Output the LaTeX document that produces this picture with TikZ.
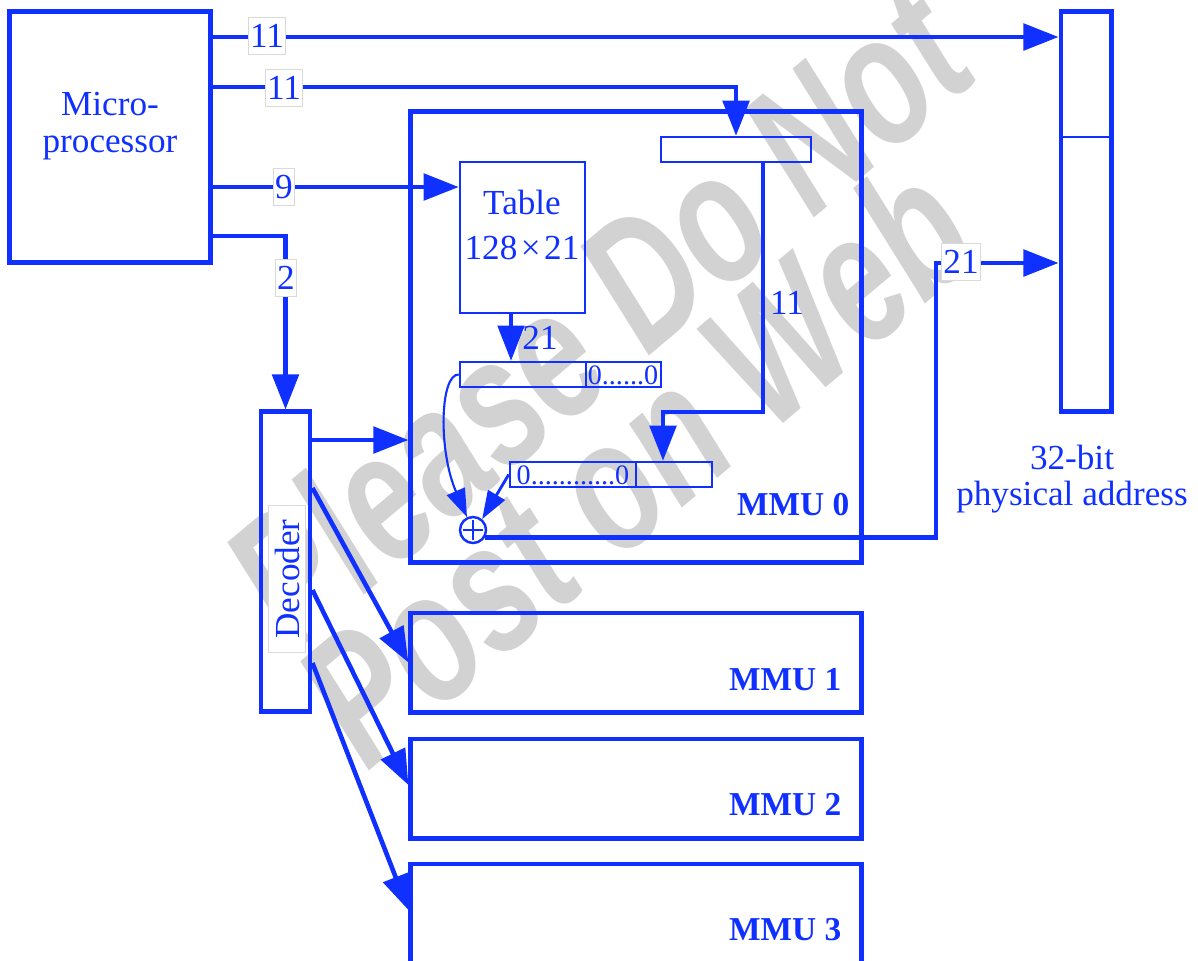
\documentclass[tikz,border=0pt]{standalone}
\usepackage{fontspec}
\setmainfont{Liberation Serif}
\newfontfamily\wmfont{Liberation Sans}
\usetikzlibrary{arrows.meta}
\definecolor{mmublue}{RGB}{16,48,255}

\begin{document}
\begin{tikzpicture}[x=0.01cm, y=-0.01cm,
    every node/.style={text=mmublue, font=\fontsize{10}{10.5}\selectfont},
    unitbox/.style={draw=mmublue, line width=1.4pt, inner sep=0pt},
    regbox/.style={draw=mmublue, line width=0.7pt, inner sep=0pt, minimum height=0.25cm},
    bus/.style={draw=mmublue, line width=1.3pt},
    bigtip/.style={-{Triangle[length=10pt,width=7.5pt]}},
    smalltip/.style={-{Triangle[length=8pt,width=5.5pt]}},
    numbox/.style={fill=white, draw=gray!30, line width=0.4pt, inner xsep=0.5pt, inner ysep=0pt, minimum height=10.5pt},
    zeros/.style={font=\fontsize{8}{8}\selectfont, inner sep=0pt},
    mmulabel/.style={font=\bfseries\fontsize{9.5}{9.5}\selectfont, anchor=base east, inner sep=0pt},
    watermark/.style={rotate=40, xscale=0.95, yscale=1.32, inner sep=0pt, text=gray!35, font=\wmfont\bfseries\itshape\fontsize{40}{40}\selectfont}]
    \useasboundingbox (0,0) rectangle (1198,960);

    \node[watermark] (wm1) at (596,314) {Please Do Not};
    \node[watermark] (wm2) at (634,462) {Post on Web};

    \node[unitbox, minimum width=2cm, minimum height=2.5cm] (micro) at (110,137) {};
    \node[align=center] (microtxt) at (110,126) {Micro-\\processor};
    \node[unitbox, minimum width=0.5cm, minimum height=3.99cm] (phys) at (1086,211.5) {};
    \draw[mmublue, line width=.7pt] (phys.west |- 0,137) -- (phys.east |- 0,137);
    \node[align=center, font=\fontsize{10}{10}\selectfont] (physlbl) at (1072,479) {32-bit\\physical address};

    \node[unitbox, minimum width=4.5cm, minimum height=4.5cm] (mmu0) at (636,337) {};
    \node[unitbox, minimum width=4.5cm, minimum height=0.99cm] (mmu1) at (636,662.5) {};
    \node[unitbox, minimum width=4.5cm, minimum height=0.99cm] (mmu2) at (636,788.5) {};
    \node[unitbox, minimum width=4.5cm, minimum height=1.12cm] (mmu3) at (636,920) {};
    \node[mmulabel] (l0) at (850,515) {MMU 0};
    \node[mmulabel] (l1) at (842,690) {MMU 1};
    \node[mmulabel] (l2) at (842,815) {MMU 2};
    \node[mmulabel] (l3) at (842,940) {MMU 3};

    \node[unitbox, minimum width=0.49cm, minimum height=2.99cm] (dec) at (285.5,561.5) {};
    \node[numbox, rotate=90, inner xsep=4pt, minimum height=0.37cm] (dectxt) at (287,579) {Decoder};

    \node[regbox, minimum width=1.25cm, minimum height=1.51cm] (table) at (522.5,237.5) {};
    \node[align=center, font=\fontsize{10}{12.8}\selectfont] (tabletxt) at (522,225) {Table\\128\kern1pt×\kern1pt21};
    \node[regbox, minimum width=1.5cm] (regtop) at (736,149.5) {};
    \node[regbox, minimum width=2.01cm] (regmid) at (560.5,374.5) {};
    \node[regbox, minimum width=2.02cm] (reglow) at (611,474.5) {};
    \draw[mmublue, line width=.7pt] (586,0 |- regmid.north) -- (586,0 |- regmid.south);
    \draw[mmublue, line width=.7pt] (636,0 |- reglow.north) -- (636,0 |- reglow.south);
    \node[zeros] (zmid) at (623,375) {0......0};
    \node[zeros] (zlow) at (573,475) {0............0};
    \node[circle, draw=mmublue, line width=.7pt, minimum size=0.26cm, inner sep=0pt] (plus) at (473,530) {};
    \draw[mmublue, line width=.6pt] (plus.center) ++(0,-10) -- ++(0,20) (plus.center) ++(-10,0) -- ++(20,0);

    \draw[bus, bigtip] (micro.east |- 0,37) -- (phys.west |- 0,37);
    \draw[bus, bigtip] (micro.east |- 0,87) -| (regtop.north);
    \draw[bus, bigtip] (micro.east |- 0,187) -- (table.west |- 0,187);
    \draw[bus, bigtip] (micro.east |- 0,236) -| (dec.north);
    \node[numbox] (n11a) at (267,36) {11};
    \node[numbox] (n11b) at (284,88) {11};
    \node[numbox] (n9) at (284,187) {9};
    \node[numbox] (n2) at (286,278) {2};

    \draw[bus, bigtip] (dec.east |- 0,440) -- (mmu0.west |- 0,440);
    \draw[bus, bigtip] (dec.east |- 0,488) -- (mmu1.west);
    \draw[bus, bigtip] (dec.east |- 0,590) -- (mmu2.west |- 0,785);
    \draw[bus, bigtip] (dec.east |- 0,663) -- (mmu3.west |- 0,910);

    \draw[bus, line width=1.1pt, bigtip] (511,0 |- table.south) -- (511,0 |- regmid.north);
    \node (n21a) at (540,338) {21};
    \coordinate (turn11) at (663,412);
    \draw[bus, bigtip] (763,0 |- regtop.south) |- (turn11) -- (turn11 |- reglow.north);
    \node (n11c) at (787,303) {11};
    \draw[mmublue, line width=.6pt, smalltip] (regmid.west) .. controls (440,374) and (438,450) .. (plus.115);
    \draw[mmublue, line width=.8pt, smalltip] (reglow.west) -- (plus.50);
    \coordinate (bend21) at (936,263);
    \draw[bus, bigtip] (plus.-32) -| (bend21) -- (phys.west |- bend21);
    \node[numbox] (n21b) at (961,262) {21};
\end{tikzpicture}
\end{document}
